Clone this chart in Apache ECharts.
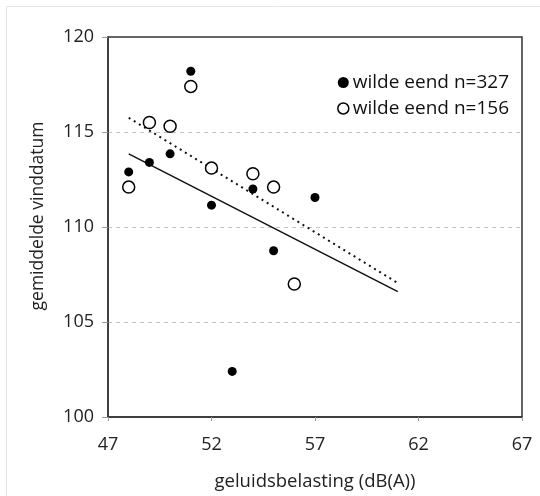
<!DOCTYPE html>
<html>
<head>
<meta charset="utf-8">
<script src="https://cdn.jsdelivr.net/npm/echarts@6/dist/echarts.min.js"></script>
<style>html,body{margin:0;padding:0;background:#fff}#c{width:540px;height:496px}</style>
</head>
<body>
<div id="c"></div>
<script>
// Data
var seriesNames = ['wilde eend n=327', 'wilde eend n=156'];
var filledX = [48, 49, 50, 51, 52, 53, 54, 55, 57];
var filledY = [112.9, 113.4, 113.85, 118.2, 111.15, 102.4, 112.0, 108.75, 111.55];
var openX = [48, 49, 50, 51, 52, 54, 55, 56];
var openY = [112.1, 115.5, 115.3, 117.4, 113.1, 112.8, 112.1, 107.0];
var fitSolidX = [48, 61];
var fitSolidY = [113.85, 106.6];
var fitDottedX = [48, 61];
var fitDottedY = [115.75, 107.05];
var xTicks = [47, 52, 57, 62, 67];
var yTicks = [100, 105, 110, 115, 120];
var xName = 'geluidsbelasting (dB(A))';
var yName = 'gemiddelde vinddatum';

function pairs(xs, ys) { return xs.map(function (x, i) { return [x, ys[i]]; }); }

var FONT = 'Open Sans';
var chart = echarts.init(document.getElementById('c'), null, { renderer: 'canvas' });
chart.setOption({
  animation: false,
  backgroundColor: '#fff',
  textStyle: { fontFamily: FONT },
  graphic: [{
    type: 'rect', silent: true,
    shape: { x: 6.5, y: 6.5, width: 700, height: 700 },
    style: { fill: 'none', stroke: '#e4e4e4', lineWidth: 1 }
  }],
  grid: { left: 108, right: 18, top: 37, bottom: 79, show: true, borderColor: '#333', borderWidth: 1.5, backgroundColor: 'transparent' },
  legend: {
    orient: 'vertical', right: 26, top: 68,
    itemGap: 7, itemWidth: 11, itemHeight: 11,
    textStyle: { fontSize: 19, color: '#111', fontFamily: FONT, padding: [0, 0, 0, -1] },
    data: [
      { name: seriesNames[0], icon: 'circle', itemStyle: { color: '#000', borderWidth: 0 } },
      { name: seriesNames[1], icon: 'circle', itemStyle: { color: '#fff', borderColor: '#000', borderWidth: 1.5 } }
    ]
  },
  xAxis: {
    type: 'value', min: xTicks[0], max: xTicks[xTicks.length - 1], interval: 5,
    name: xName, nameLocation: 'middle', nameGap: 55,
    nameTextStyle: { fontSize: 18.5, color: '#222', fontFamily: FONT },
    axisLine: { lineStyle: { color: '#333', width: 1.5 } },
    axisTick: { show: true, length: 4, lineStyle: { color: '#999' } },
    axisLabel: { fontSize: 18, color: '#222', margin: 19, fontFamily: FONT },
    splitLine: { show: false }
  },
  yAxis: {
    type: 'value', min: yTicks[0], max: yTicks[yTicks.length - 1], interval: 5,
    name: yName, nameLocation: 'middle', nameGap: 61,
    nameTextStyle: { fontSize: 17.5, color: '#222', fontFamily: FONT, padding: [0, 0, 0, 22] },
    axisLine: { show: true, lineStyle: { color: '#333', width: 1.5 } },
    axisTick: { show: true, length: 6, lineStyle: { color: '#999' } },
    axisLabel: { fontSize: 18, color: '#222', margin: 14, fontFamily: FONT },
    splitLine: { show: true, showMinLine: false, showMaxLine: false, lineStyle: { color: '#c4c4c4', type: [4, 4], width: 1 } }
  },
  series: [
    {
      name: seriesNames[1], type: 'scatter', data: pairs(openX, openY),
      symbol: 'circle', symbolSize: 12,
      itemStyle: { color: '#fff', borderColor: '#000', borderWidth: 1.5, opacity: 1 }, z: 3
    },
    {
      name: seriesNames[0], type: 'scatter', data: pairs(filledX, filledY),
      symbol: 'circle', symbolSize: 9,
      itemStyle: { color: '#000', opacity: 1 }, z: 4
    },
    {
      name: 'fit1', type: 'line', data: pairs(fitSolidX, fitSolidY),
      showSymbol: false, symbol: 'none', silent: true,
      lineStyle: { color: '#111', width: 1.5 }, z: 2
    },
    {
      name: 'fit2', type: 'line', data: pairs(fitDottedX, fitDottedY),
      showSymbol: false, symbol: 'none', silent: true,
      lineStyle: { color: '#111', width: 2, type: [2, 4] }, z: 2
    }
  ]
});
</script>
</body>
</html>
